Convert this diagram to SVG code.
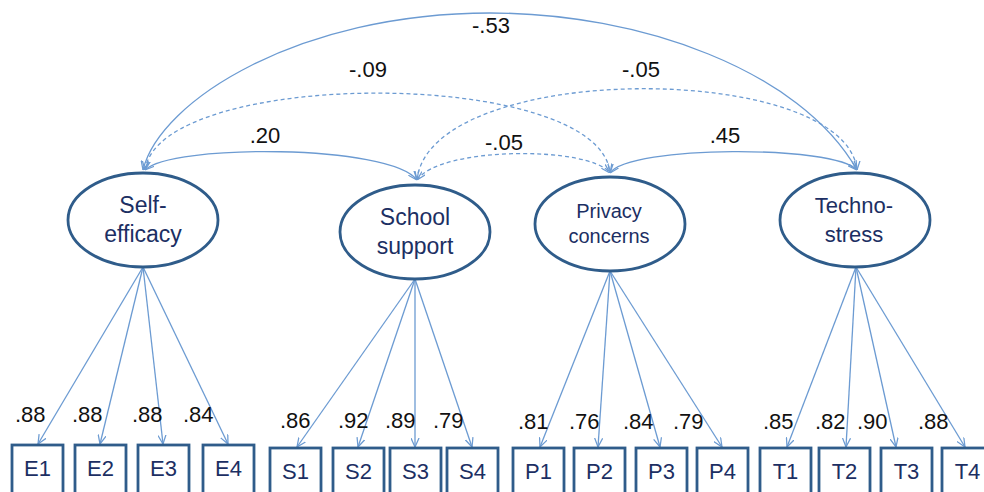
<svg xmlns="http://www.w3.org/2000/svg" width="984" height="492" viewBox="0 0 984 492">
<defs>
<marker id="arr" viewBox="0 0 10 10" refX="10" refY="5" markerWidth="9" markerHeight="9" markerUnits="userSpaceOnUse" orient="auto-start-reverse">
<path d="M0,0.5 L10,5 L0,9.5" fill="none" stroke="#6c9bd2" stroke-width="1.4"/>
</marker>
<style>
.lat{fill:#fff;stroke:#2f5c8a;stroke-width:2.8}
.obs{fill:#fff;stroke:#2f5c8a;stroke-width:2.8}
.nt{font-family:"Liberation Sans",Arial,sans-serif;fill:#1c2f63;text-anchor:middle}
.num{font-family:"Liberation Sans",Arial,sans-serif;font-size:22px;fill:#111}
.c{fill:none;stroke:#6c9bd2;stroke-width:1.3}
.d{stroke-dasharray:4,3}
</style>
</defs>
<g id="connectors">
<path class="c" d="M143,170 C160,100 300,13 490,13 C640,13 800,70 857,170" marker-start="url(#arr)" marker-end="url(#arr)"/>
<path class="c d" d="M145,170 C160,67 600,67 610,173" marker-start="url(#arr)" marker-end="url(#arr)"/>
<path class="c d" d="M417,180 C430,60 845,60 857,170" marker-start="url(#arr)" marker-end="url(#arr)"/>
<path class="c d" d="M417,180 C440,146 590,146 610,173" marker-start="url(#arr)" marker-end="url(#arr)"/>
<path class="c" d="M145,170 C170,144 390,144 417,180" marker-start="url(#arr)" marker-end="url(#arr)"/>
<path class="c" d="M610,173 C630,145 835,145 857,170" marker-start="url(#arr)" marker-end="url(#arr)"/>
<line class="c" x1="143" y1="267" x2="38" y2="444" marker-end="url(#arr)"/>
<line class="c" x1="143" y1="267" x2="100" y2="444" marker-end="url(#arr)"/>
<line class="c" x1="143" y1="267" x2="163" y2="444" marker-end="url(#arr)"/>
<line class="c" x1="143" y1="267" x2="228" y2="444" marker-end="url(#arr)"/>
<line class="c" x1="415" y1="279" x2="297" y2="447" marker-end="url(#arr)"/>
<line class="c" x1="415" y1="279" x2="358" y2="447" marker-end="url(#arr)"/>
<line class="c" x1="415" y1="279" x2="415" y2="447" marker-end="url(#arr)"/>
<line class="c" x1="415" y1="279" x2="472" y2="447" marker-end="url(#arr)"/>
<line class="c" x1="610" y1="271" x2="540" y2="447" marker-end="url(#arr)"/>
<line class="c" x1="610" y1="271" x2="598" y2="447" marker-end="url(#arr)"/>
<line class="c" x1="610" y1="271" x2="660" y2="447" marker-end="url(#arr)"/>
<line class="c" x1="610" y1="271" x2="722" y2="447" marker-end="url(#arr)"/>
<line class="c" x1="856" y1="267" x2="787" y2="447" marker-end="url(#arr)"/>
<line class="c" x1="856" y1="267" x2="846" y2="447" marker-end="url(#arr)"/>
<line class="c" x1="856" y1="267" x2="896" y2="447" marker-end="url(#arr)"/>
<line class="c" x1="856" y1="267" x2="965" y2="447" marker-end="url(#arr)"/>
</g>
<g id="labels">
<text class="num" x="491" y="33" text-anchor="middle">-.53</text>
<text class="num" x="368" y="77" text-anchor="middle">-.09</text>
<text class="num" x="641" y="77" text-anchor="middle">-.05</text>
<text class="num" x="265" y="143" text-anchor="middle">.20</text>
<text class="num" x="504" y="150" text-anchor="middle">-.05</text>
<text class="num" x="725" y="143" text-anchor="middle">.45</text>
<text class="num" x="15" y="422">.88</text>
<text class="num" x="72" y="422">.88</text>
<text class="num" x="132" y="422">.88</text>
<text class="num" x="183" y="422">.84</text>
<text class="num" x="280" y="428">.86</text>
<text class="num" x="338" y="428">.92</text>
<text class="num" x="385" y="428">.89</text>
<text class="num" x="433" y="428">.79</text>
<text class="num" x="518" y="429">.81</text>
<text class="num" x="569" y="429">.76</text>
<text class="num" x="623" y="429">.84</text>
<text class="num" x="673" y="429">.79</text>
<text class="num" x="763" y="429">.85</text>
<text class="num" x="815" y="429">.82</text>
<text class="num" x="857" y="429">.90</text>
<text class="num" x="918" y="429">.88</text>
</g>
<g id="self-efficacy">
<ellipse class="lat" cx="143" cy="220" rx="75" ry="47"/>
<text class="nt" x="143" y="213" font-size="23">Self-</text>
<text class="nt" x="143" y="242" font-size="23">efficacy</text>
</g>
<g id="school-support">
<ellipse class="lat" cx="415" cy="232" rx="75" ry="47"/>
<text class="nt" x="415" y="225" font-size="23">School</text>
<text class="nt" x="415" y="254" font-size="23">support</text>
</g>
<g id="privacy-concerns">
<ellipse class="lat" cx="610" cy="224" rx="75" ry="47"/>
<text class="nt" x="609" y="218" font-size="20">Privacy</text>
<text class="nt" x="609" y="243" font-size="20">concerns</text>
</g>
<g id="techno-stress">
<ellipse class="lat" cx="855" cy="220" rx="75" ry="47"/>
<text class="nt" x="854" y="213" font-size="22">Techno-</text>
<text class="nt" x="854" y="242" font-size="22">stress</text>
</g>
<g id="E1"><rect class="obs" x="12" y="445" width="51" height="60"/><text class="nt" x="37.5" y="476" font-size="22">E1</text></g>
<g id="E2"><rect class="obs" x="75" y="445" width="51" height="60"/><text class="nt" x="100.5" y="476" font-size="22">E2</text></g>
<g id="E3"><rect class="obs" x="138" y="445" width="51" height="60"/><text class="nt" x="163.5" y="476" font-size="22">E3</text></g>
<g id="E4"><rect class="obs" x="203" y="445" width="51" height="60"/><text class="nt" x="228.5" y="476" font-size="22">E4</text></g>
<g id="S1"><rect class="obs" x="270" y="448" width="51" height="60"/><text class="nt" x="295.5" y="479" font-size="22">S1</text></g>
<g id="S2"><rect class="obs" x="333" y="448" width="51" height="60"/><text class="nt" x="358.5" y="479" font-size="22">S2</text></g>
<g id="S3"><rect class="obs" x="390" y="448" width="51" height="60"/><text class="nt" x="415.5" y="479" font-size="22">S3</text></g>
<g id="S4"><rect class="obs" x="447" y="448" width="51" height="60"/><text class="nt" x="472.5" y="479" font-size="22">S4</text></g>
<g id="P1"><rect class="obs" x="513" y="448" width="51" height="60"/><text class="nt" x="538.5" y="479" font-size="22">P1</text></g>
<g id="P2"><rect class="obs" x="574" y="448" width="51" height="60"/><text class="nt" x="599.5" y="479" font-size="22">P2</text></g>
<g id="P3"><rect class="obs" x="636" y="448" width="51" height="60"/><text class="nt" x="661.5" y="479" font-size="22">P3</text></g>
<g id="P4"><rect class="obs" x="697" y="448" width="51" height="60"/><text class="nt" x="722.5" y="479" font-size="22">P4</text></g>
<g id="T1"><rect class="obs" x="760" y="448" width="51" height="60"/><text class="nt" x="785.5" y="479" font-size="22">T1</text></g>
<g id="T2"><rect class="obs" x="819" y="448" width="51" height="60"/><text class="nt" x="844.5" y="479" font-size="22">T2</text></g>
<g id="T3"><rect class="obs" x="881" y="448" width="51" height="60"/><text class="nt" x="906.5" y="479" font-size="22">T3</text></g>
<g id="T4"><rect class="obs" x="942" y="448" width="51" height="60"/><text class="nt" x="967.5" y="479" font-size="22">T4</text></g>
</svg>
